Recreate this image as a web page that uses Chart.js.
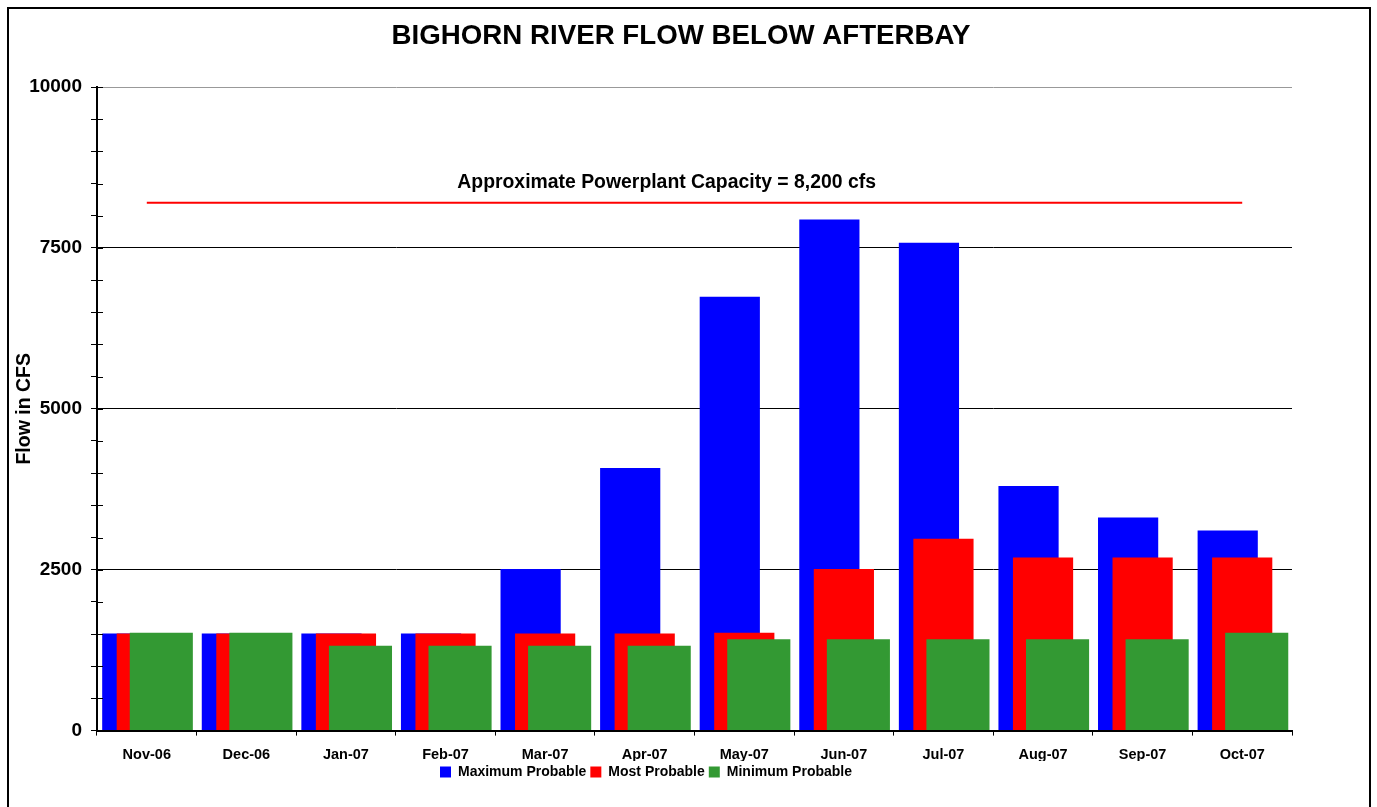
<!DOCTYPE html>
<html>
<head>
<meta charset="utf-8">
<title>Bighorn River Flow Below Afterbay</title>
<script src="https://cdn.jsdelivr.net/npm/chart.js@4.4.1/dist/chart.umd.min.js"></script>
<style>
  body { margin: 0; background: #fff; }
  #wrap { width: 1377px; height: 807px; }
</style>
</head>
<body>
<div id="wrap"><canvas id="flowChart"></canvas></div>
<script>
const chartTitle = "BIGHORN RIVER FLOW BELOW AFTERBAY";
const months = ["Nov-06", "Dec-06", "Jan-07", "Feb-07", "Mar-07", "Apr-07",
                "May-07", "Jun-07", "Jul-07", "Aug-07", "Sep-07", "Oct-07"];
const maxProbable  = [1510, 1510, 1510, 1510, 2510, 4080, 6740, 7940, 7580, 3800, 3310, 3110];
const mostProbable = [1510, 1510, 1510, 1510, 1510, 1510, 1520, 2510, 2980, 2690, 2690, 2690];
const minProbable  = [1520, 1520, 1320, 1320, 1320, 1320, 1420, 1420, 1420, 1420, 1420, 1520];
const capacity     = [8200, 8200, 8200, 8200, 8200, 8200, 8200, 8200, 8200, 8200, 8200, 8200];
const capacityLabel = "Approximate Powerplant Capacity = 8,200 cfs";
const yMajorStep = 2500;

const FONT = "'Liberation Sans', Arial, sans-serif";

// draw datasets first-to-last so the green bars sit on top of red and blue
const drawInOrder = {
  id: "drawInOrder",
  beforeDatasetsDraw(chart) {
    chart.data.datasets.forEach((ds, i) => {
      const meta = chart.getDatasetMeta(i);
      if (meta.visible) meta.controller.draw();
    });
    return false;
  }
};

const frame = {
  id: "frame",
  beforeDatasetsDraw(chart) {
    const { ctx, chartArea: a } = chart;
    ctx.save();
    ctx.strokeStyle = "#999";
    ctx.lineWidth = 2;
    ctx.beginPath();
    ctx.moveTo(a.left, a.top);
    ctx.lineTo(a.right, a.top);
    ctx.lineTo(a.right, a.bottom);
    ctx.stroke();
    ctx.restore();
  },
  afterDraw(chart) {
    const { ctx, chartArea: a, scales } = chart;
    ctx.save();
    // inner half of the y ticks
    ctx.strokeStyle = "#000";
    ctx.lineWidth = 1;
    scales.y.ticks.forEach(t => {
      const y = Math.round(scales.y.getPixelForValue(t.value)) + 0.5;
      ctx.beginPath();
      ctx.moveTo(a.left, y);
      ctx.lineTo(a.left + 6, y);
      ctx.stroke();
    });
    ctx.fillStyle = "#000";
    ctx.textAlign = "center";
    ctx.textBaseline = "middle";
    // title
    ctx.font = "bold 27.7px " + FONT;
    ctx.fillText(chartTitle, 681, 36);
    // capacity label
    ctx.font = "bold 19.4px " + FONT;
    ctx.fillText(capacityLabel, scales.x.getPixelForValue(5.22), scales.y.getPixelForValue(capacity[0]) - 20);
    // outer border
    ctx.lineWidth = 2;
    ctx.strokeRect(8, 8, 1362, 820);
    ctx.restore();
  }
};

new Chart(document.getElementById("flowChart"), {
  type: "bar",
  data: {
    labels: months,
    datasets: [
      { label: "Maximum Probable", data: maxProbable, backgroundColor: "#0000ff", barPercentage: 4.15 },
      { label: "Most Probable", data: mostProbable, backgroundColor: "#ff0000", barPercentage: 4.15 },
      { label: "Minimum Probable", data: minProbable, backgroundColor: "#339933", barPercentage: 4.35 },
      { type: "line", label: "capacity", data: capacity, borderColor: "#ff0000", borderWidth: 2,
        pointRadius: 0, fill: false }
    ]
  },
  options: {
    responsive: true,
    maintainAspectRatio: false,
    animation: false,
    datasets: { bar: { categoryPercentage: 0.437 } },
    layout: { padding: { top: 87, right: 85, bottom: 18, left: 0 } },
    plugins: {
      title: { display: false },
      legend: {
        position: "bottom",
        labels: {
          color: "#000",
          font: { family: FONT, size: 14, weight: "bold" },
          boxWidth: 11,
          boxHeight: 11,
          padding: 4,
          filter: item => item.datasetIndex < 3
        }
      },
      tooltip: { enabled: false }
    },
    scales: {
      x: {
        afterFit: s => { s.height -= 14; },
        grid: { offset: true, drawOnChartArea: false, tickLength: 5, color: "#000" },
        border: { color: "#000", width: 2 },
        ticks: { color: "#000", padding: 11, font: { family: FONT, size: 14.5, weight: "bold" }, maxRotation: 0 }
      },
      y: {
        min: 0,
        max: 10000,
        afterFit: s => { s.width = 97; },
        title: {
          display: true,
          text: "Flow in CFS",
          color: "#000",
          font: { family: FONT, size: 19.5, weight: "bold" },
          padding: { top: 13, bottom: 0 }
        },
        grid: {
          tickLength: 6,
          tickColor: "#000",
          color: c => c.tick.value === 10000 ? "#999" : (c.tick.value % yMajorStep === 0 ? "#000" : "rgba(0,0,0,0)")
        },
        border: { color: "#000", width: 2 },
        ticks: {
          stepSize: 500,
          padding: 9,
          color: "#000",
          font: { family: FONT, size: 19, weight: "bold" },
          callback: v => v % yMajorStep === 0 ? v : ""
        }
      }
    }
  },
  plugins: [drawInOrder, frame]
});
</script>
</body>
</html>
